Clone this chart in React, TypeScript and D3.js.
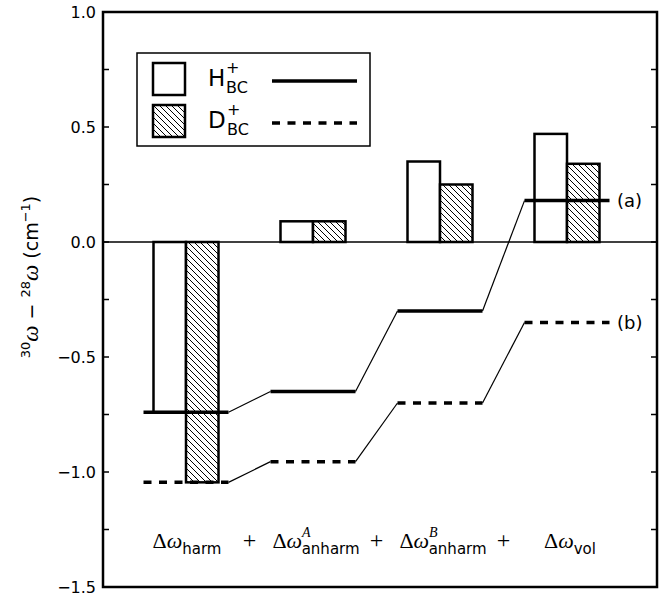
import React from "react";
import * as d3 from "d3";

const categories = ["harm", "anharmA", "anharmB", "vol"];
const hValues = [-0.74, 0.09, 0.35, 0.47];
const dValues = [-1.045, 0.09, 0.25, 0.34];
const hCumulative = [-0.74, -0.65, -0.3, 0.18];
const dCumulative = [-1.045, -0.955, -0.7, -0.35];
const yTickValues = [-1.5, -1.0, -0.5, 0, 0.5, 1.0];
const yMinorTickValues = [-1.25, -0.75, -0.25, 0.25, 0.75];
const termSubs = ["harm", "anharm", "anharm", "vol"];
const termSups = ["", "A", "B", ""];

const W = 660;
const H = 599;
const left = 103;
const right = 657;
const top = 12;
const bottom = 587;

const SANS = "'DejaVu Sans', sans-serif";
const SERIF = "'Liberation Serif', 'DejaVu Serif', serif";

export default function App() {
  const y = d3.scaleLinear().domain([-1.5, 1.0]).range([bottom, top]);
  const x = d3.scaleBand<string>().domain(categories).range([122.5, 630.5]).padding(0);
  const center = (c: string) => (x(c) as number) + x.bandwidth() / 2;
  const barW = 32.5;
  const segHalf = 42.5;
  const fmt = (v: number) => d3.format(".1f")(v).replace("-", "\u2212");

  const connectors = (cum: number[]) =>
    cum.slice(0, -1).map((v, i) => ({
      x1: center(categories[i]) + segHalf,
      y1: y(v),
      x2: center(categories[i + 1]) - segHalf,
      y2: y(cum[i + 1]),
    }));

  const termY = 548;

  return (
    <svg width={W} height={H} style={{ position: "absolute", left: 0, top: 0, background: "#fff" }}>
      <defs>
        <pattern id="hatch" patternUnits="userSpaceOnUse" width={6} height={6}>
          <rect width={6} height={6} fill="#fff" />
          <path d="M-1,-1 L7,7 M-1,5 L1,7 M5,-1 L7,1" stroke="#000" strokeWidth={1} />
        </pattern>
      </defs>
      <rect x={0} y={0} width={W} height={H} fill="#fff" />

      {/* zero line */}
      <line x1={left} x2={right} y1={y(0)} y2={y(0)} stroke="#000" strokeWidth={1.5} />

      {/* bars */}
      {categories.map((c, i) => {
        const cx = center(c);
        const hv = hValues[i];
        const dv = dValues[i];
        return (
          <g key={c}>
            <rect
              x={cx - barW}
              y={Math.min(y(0), y(hv))}
              width={barW}
              height={Math.abs(y(hv) - y(0))}
              fill="#fff"
              stroke="#000"
              strokeWidth={2.5}
            />
            <rect
              x={cx}
              y={Math.min(y(0), y(dv))}
              width={barW}
              height={Math.abs(y(dv) - y(0))}
              fill="url(#hatch)"
              stroke="#000"
              strokeWidth={2.5}
            />
          </g>
        );
      })}

      {/* connectors */}
      {connectors(hCumulative).map((s, i) => (
        <line key={"hc" + i} {...s} stroke="#000" strokeWidth={1.2} />
      ))}
      {connectors(dCumulative).map((s, i) => (
        <line key={"dc" + i} {...s} stroke="#000" strokeWidth={1.2} />
      ))}

      {/* level segments */}
      {categories.map((c, i) => (
        <line
          key={"hs" + c}
          x1={center(c) - segHalf}
          x2={center(c) + segHalf}
          y1={y(hCumulative[i])}
          y2={y(hCumulative[i])}
          stroke="#000"
          strokeWidth={3.5}
        />
      ))}
      {categories.map((c, i) => (
        <line
          key={"ds" + c}
          x1={center(c) - segHalf}
          x2={center(c) + segHalf}
          y1={y(dCumulative[i])}
          y2={y(dCumulative[i])}
          stroke="#000"
          strokeWidth={3.5}
          strokeDasharray="8 7.5"
        />
      ))}

      {/* (a) (b) labels */}
      <text x={617} y={y(hCumulative[3])} dy="0.36em" fontFamily={SANS} fontSize={18}>(a)</text>
      <text x={617} y={y(dCumulative[3])} dy="0.36em" fontFamily={SANS} fontSize={18}>(b)</text>

      {/* frame */}
      <rect x={left} y={top} width={right - left} height={bottom - top} fill="none" stroke="#000" strokeWidth={2.5} />

      {/* ticks */}
      {[...yTickValues, ...yMinorTickValues].map((v) => (
        <g key={"t" + v}>
          <line x1={left} x2={left + 6} y1={y(v)} y2={y(v)} stroke="#000" strokeWidth={1.5} />
          <line x1={right - 6} x2={right} y1={y(v)} y2={y(v)} stroke="#000" strokeWidth={1.5} />
        </g>
      ))}
      {yTickValues.map((v) => (
        <text key={"l" + v} x={96} y={y(v)} dy="0.36em" textAnchor="end" fontFamily={SANS} fontSize={16}>
          {fmt(v)}
        </text>
      ))}

      {/* y label */}
      <text
        transform={`translate(38,${277}) rotate(-90)`}
        textAnchor="middle"
        fontFamily={SANS}
        fontSize={19}
      >
        <tspan fontSize={13} dy={-8}>30</tspan>
        <tspan fontFamily={SERIF} fontStyle="italic" fontSize={23} dy={8}>ω</tspan>
        <tspan> − </tspan>
        <tspan fontSize={13} dy={-8}>28</tspan>
        <tspan fontFamily={SERIF} fontStyle="italic" fontSize={23} dy={8}>ω</tspan>
        <tspan> (cm</tspan>
        <tspan fontSize={13} dy={-8}>−1</tspan>
        <tspan dy={8}>)</tspan>
      </text>

      {/* bottom term labels */}
      {categories.map((c, i) => {
        const cx = center(c) + (i === 0 ? 1 : 3);
        const hasSup = termSups[i] !== "";
        return (
          <text key={"term" + c} x={cx} y={termY} textAnchor="middle" fontFamily={SERIF} fontSize={22}>
            <tspan>Δ</tspan>
            <tspan fontStyle="italic">ω</tspan>
            {hasSup ? (
              <>
                <tspan fontStyle="italic" fontSize={14} dy={-11}>{termSups[i]}</tspan>
                <tspan fontFamily={SANS} fontSize={15} dx={-9} dy={17}>{termSubs[i]}</tspan>
              </>
            ) : (
              <tspan fontFamily={SANS} fontSize={15} dy={6}>{termSubs[i]}</tspan>
            )}
          </text>
        );
      })}
      {categories.slice(0, -1).map((c, i) => (
        <text
          key={"plus" + c}
          x={(center(c) + center(categories[i + 1])) / 2}
          y={termY}
          textAnchor="middle"
          fontFamily={SERIF}
          fontSize={24}
        >
          +
        </text>
      ))}

      {/* legend */}
      <g>
        <rect x={137} y={53} width={233} height={93} fill="#fff" stroke="#000" strokeWidth={1.5} />
        <rect x={153} y={63} width={32} height={32} fill="#fff" stroke="#000" strokeWidth={2.5} />
        <rect x={153} y={105} width={32} height={32} fill="url(#hatch)" stroke="#000" strokeWidth={2.5} />
        <text x={208} y={86} fontFamily={SANS} fontSize={23}>H</text>
        <text x={226} y={73} fontFamily={SANS} fontSize={16}>+</text>
        <text x={226} y={93} fontFamily={SANS} fontSize={16}>BC</text>
        <text x={208} y={128} fontFamily={SANS} fontSize={23}>D</text>
        <text x={227} y={115} fontFamily={SANS} fontSize={16}>+</text>
        <text x={227} y={135} fontFamily={SANS} fontSize={16}>BC</text>
        <line x1={272} x2={357} y1={81} y2={81} stroke="#000" strokeWidth={3.5} />
        <line x1={272} x2={357} y1={123} y2={123} stroke="#000" strokeWidth={3.5} strokeDasharray="8 7.5" />
      </g>
    </svg>
  );
}
